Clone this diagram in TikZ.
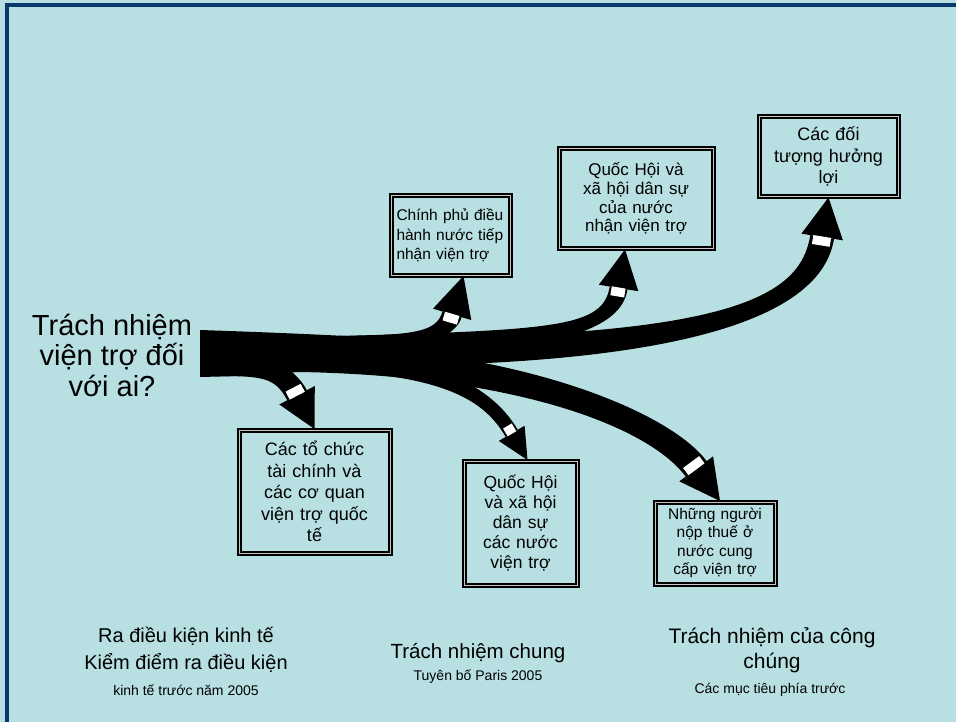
\documentclass[tikz,border=0pt]{standalone}
\usepackage{fontspec}
\setmainfont{Liberation Sans}
\usetikzlibrary{calc}
\definecolor{bgc}{HTML}{B8DFE2}
\definecolor{frm}{HTML}{0A3A6B}
\pgfdeclarelayer{bg}
\pgfdeclarelayer{arrows}
\pgfsetlayers{bg,arrows,main}
% #1 P0, #2 P1, #3 P2, #4 tip, #5 half width start, #6 half width end,
% #7 head length, #8 head half width, #9 white bar size across
\newcommand\flowarm[9]{%
  \coordinate (q0) at #1;
  \coordinate (q1) at #2;
  \coordinate (q2) at #3;
  \coordinate (qt) at #4;
  \coordinate (q3) at ($(qt)!#7!(q2)$);
  \coordinate (qw) at ($(q3)!4pt!(q2)$);
  \fill ($(q0)!#5!90:(q1)$) .. controls ($(q1)!#5!-90:(q0)$) and ($(q2)!#6!90:(q3)$) .. ($(q3)!#6!-90:(q2)$)
    -- ($(q3)!#6!90:(q2)$) .. controls ($(q2)!#6!-90:(q3)$) and ($(q1)!#5!90:(q0)$) .. ($(q0)!#5!-90:(q1)$) -- cycle;
  \fill ($(q3)!#8!90:(qt)$) -- (qt) -- ($(q3)!#8!-90:(qt)$) -- cycle;
  \path (q2) -- (qw) node[pos=1, sloped, whitebar, minimum height=#9] {};
}
\begin{document}
\begin{tikzpicture}[x=1pt,y=-1pt,
  tbox/.style={draw=black, line width=2pt, double=gray!45, double distance=1pt, fill=bgc, align=center, inner sep=2pt},
  whitebar/.style={fill=white, draw=none, inner sep=0pt, minimum width=9pt},
  ttl/.style={align=center, inner sep=0pt}]
\useasboundingbox (0,0) rectangle (956,722);
\begin{pgfonlayer}{bg}
\fill[bgc] (0,0) rectangle (956,722);
\draw[frm, line width=4pt] (7,722) -- (7,5.5) -- (956,5.5);
\end{pgfonlayer}

% boxes
\node[tbox, minimum width=151pt, minimum height=123pt, text width=140pt, font=\fontsize{18}{21.5}\selectfont] (b1) at (314.5,491.5) {Các tổ chức\\tài chính và\\các cơ quan\\viện trợ quốc\\tế};
\node[tbox, minimum width=119pt, minimum height=79pt, text width=108pt, align=left, font=\fontsize{15.5}{19.5}\selectfont] (b2) at (450.5,235.5) {Chính phủ điều\\hành nước tiếp\\nhận viện trợ};
\node[tbox, minimum width=154pt, minimum height=100pt, text width=148pt, font=\fontsize{17}{18.7}\selectfont] (b3) at (636,198.5) {Quốc Hội và\\xã hội dân sự\\của nước\\nhận viện trợ};
\node[tbox, minimum width=139pt, minimum height=80pt, text width=132pt, font=\fontsize{18}{21.5}\selectfont] (b4) at (828.5,156.5) {Các đối\\tượng hưởng\\lợi};
\node[tbox, minimum width=113pt, minimum height=124pt, text width=105pt, font=\fontsize{17.5}{20}\selectfont] (b5) at (520.5,523) {Quốc Hội\\và xã hội\\dân sự\\các nước\\viện trợ};
\node[tbox, minimum width=120pt, minimum height=82pt, text width=114pt, font=\fontsize{15.5}{18.5}\selectfont] (b6) at (715,543) {Những người\\nộp thuế ở\\nước cung\\cấp viện trợ};

% texts
\node[ttl, font=\fontsize{29}{30.5}\selectfont] (title) at (112,355) {Trách nhiệm\\viện trợ đối\\với ai?};
\node[ttl, font=\fontsize{20}{27}\selectfont] (l1) at (186,650) {Ra điều kiện kinh tế\\Kiểm điểm ra điều kiện};
\node[ttl, font=\fontsize{14}{16}\selectfont] (l2) at (186,690) {kinh tế trước năm 2005};
\node[ttl, font=\fontsize{20.5}{24}\selectfont] (m1) at (478,653) {Trách nhiệm chung};
\node[ttl, font=\fontsize{14}{16}\selectfont] (m2) at (478,677) {Tuyên bố Paris 2005};
\node[ttl, font=\fontsize{21}{25}\selectfont] (r1) at (772,650) {Trách nhiệm của công\\chúng};
\node[ttl, font=\fontsize{14}{16}\selectfont] (r2) at (770,690) {Các mục tiêu phía trước};

% arrows
\begin{pgfonlayer}{arrows}
\fill (200,330) .. controls (290,333) and (350,336) .. (400,339) -- (400,368) .. controls (350,370) and (280,372) .. (240,376) -- (200,377) -- cycle;
\flowarm{(215,362)}{(262,362)}{(285,372)}{(b1.north)}{14pt}{11pt}{38pt}{20pt}{17pt}
\flowarm{(340,346)}{(415,345)}{(446,335)}{([xshift=13pt]b2.south)}{10pt}{10pt}{40pt}{20pt}{15pt}
\flowarm{(340,348)}{(560,342)}{(612,328)}{([xshift=-11pt]b3.south)}{12pt}{9pt}{39pt}{20pt}{14pt}
\flowarm{(330,352)}{(730,355)}{(812,300)}{(b4.south)}{14pt}{12pt}{40pt}{21pt}{18pt}
\flowarm{(300,360)}{(450,362)}{(492,400)}{([xshift=7pt]b5.north)}{10pt}{7pt}{31pt}{15pt}{10pt}
\flowarm{(300,358)}{(520,362)}{(660,420)}{([xshift=5pt]b6.north)}{14pt}{13pt}{40pt}{21pt}{20pt}
\end{pgfonlayer}
\end{tikzpicture}
\end{document}
